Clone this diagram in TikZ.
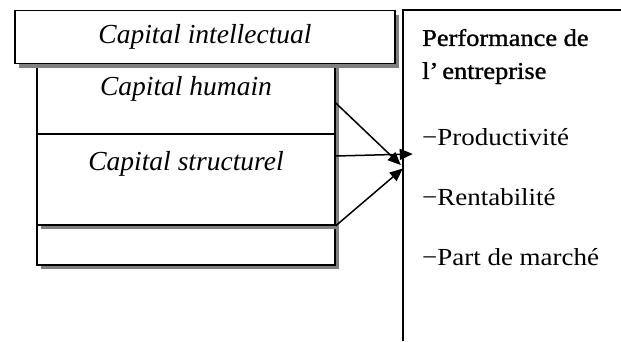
\documentclass[tikz,border=0pt]{standalone}
\usepackage{fontspec}
\setmainfont{Liberation Serif}
\newfontfamily\perffont[FakeStretch=1.1]{Liberation Serif}
\newfontfamily\perfhead[FakeStretch=1.1,FakeBold=1.2]{Liberation Serif}
\usepackage{tikz}
\usetikzlibrary{arrows.meta,positioning,shadows}
\definecolor{boxshade}{HTML}{808080}

\begin{document}
\begin{tikzpicture}[x=1pt,y=-1pt,
  capbox/.style={draw=black,fill=white,line width=1.5pt,
              drop shadow={shadow xshift=4pt,shadow yshift=-4pt,
                           fill=boxshade,opacity=1},
              inner sep=0pt},
  captxt/.style={font=\fontsize{27.5}{30}\selectfont\itshape},
  ttl/.style={font=\fontsize{24}{33}\perfhead,align=left,
              anchor=west,inner sep=0pt},
  item/.style={font=\fontsize{24.5}{30}\perffont,anchor=west,inner sep=0pt},
  arr/.style={-{Triangle[length=13pt,width=11pt]},line width=1.5pt}]
  \useasboundingbox (0,0) rectangle (621,341);
  % stacked capital boxes, lowest first
  \node[capbox,minimum width=298pt,minimum height=71pt] (hum) at (186,98.5) {};
  \node[capbox,minimum width=298pt,minimum height=40pt] (rest) at (186,245) {};
  \node[capbox,minimum width=298pt,minimum height=91pt,
        label={[captxt,anchor=center,yshift=-31pt]north:Capital structurel}]
        (struc) at (186,179.5) {};
  \node[capbox,minimum width=380pt,minimum height=53pt,captxt] (ic)
        at (205,37) {Capital intellectual};
  \node[captxt] at ([yshift=-27pt]hum.north) {Capital humain};
  % performance frame, open to the right and bottom
  \node[minimum width=218pt,minimum height=331pt,inner sep=0pt] (perf)
        at (512,175.5) {};
  \draw[line width=1.5pt] (perf.south west) -- (perf.north west) -- (perf.north east);
  \node[ttl] (pttl) at (422,56.5) {Performance de\\l’\,entreprise};
  \node[item] (prod) at (422,137) {−Productivité};
  \node[item] (rent) at ([yshift=-60pt]prod.west) {−Rentabilité};
  \node[item] (part) at ([yshift=-60pt]rent.west) {−Part de marché};
  % arrows into the performance frame
  \draw[arr] ([yshift=-4.5pt]hum.east) -- ([xshift=-2pt,yshift=10.5pt]perf.west);
  \draw[arr] ([yshift=23.5pt]struc.east) -- ([xshift=10pt,yshift=21.5pt]perf.west);
  \draw[arr] (struc.south east) -- ([xshift=0pt,yshift=7pt]perf.west);
\end{tikzpicture}
\end{document}
